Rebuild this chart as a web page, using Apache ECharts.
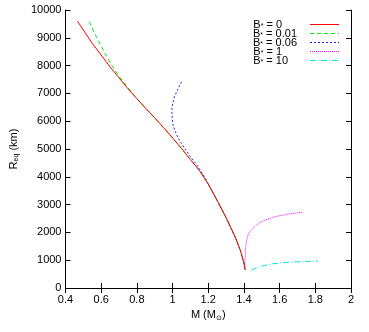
<!DOCTYPE html>
<html>
<head>
<meta charset="utf-8">
<script src="https://cdn.jsdelivr.net/npm/echarts@6/dist/echarts.min.js"></script>
<style>html,body{margin:0;padding:0;background:#fff}#c{width:369px;height:332px}</style>
</head>
<body>
<div id="c"></div>
<script>
// Data: [M (Msun), R_eq (km)]
var seriesNames = ['0', '0.01', '0.06', '1', '10'];
var b0 = [[0.467,9600],[0.5,9280],[0.55,8800],[0.6,8380],[0.65,7950],[0.7,7560],[0.75,7170],[0.8,6810],[0.85,6460],[0.9,6120],[0.95,5770],[1.0,5400],[1.05,5020],[1.1,4620],[1.15,4230],[1.2,3740],[1.25,3150],[1.3,2530],[1.35,1850],[1.38,1350],[1.4,900],[1.407,650]];
var b001 = [[0.533,9580],[0.56,9200],[0.6,8700],[0.65,8100],[0.7,7620],[0.75,7200],[0.8,6815],[0.85,6460],[0.9,6120],[0.95,5770],[1.0,5400],[1.05,5020],[1.1,4620],[1.15,4230],[1.2,3740],[1.25,3150],[1.3,2530],[1.35,1850],[1.38,1350],[1.4,900],[1.407,650]];
var b006 = [[1.05,7420],[1.03,7150],[1.01,6880],[1.0,6620],[0.996,6400],[0.998,6150],[1.0,5920],[1.012,5680],[1.028,5440],[1.05,5200],[1.074,4960],[1.1,4730],[1.13,4480],[1.16,4200],[1.185,3930],[1.2,3740],[1.25,3150],[1.3,2530],[1.35,1850],[1.38,1350],[1.4,900],[1.407,650]];
var b1 = [[1.405,700],[1.407,1100],[1.41,1500],[1.417,1750],[1.425,1950],[1.444,2100],[1.48,2320],[1.52,2450],[1.574,2565],[1.65,2660],[1.728,2725]];
var b10 = [[1.441,640],[1.47,720],[1.5,790],[1.55,860],[1.611,910],[1.67,935],[1.722,950],[1.815,970]];
var xTicks = {min: 0.4, max: 2, step: 0.2};
var yTicks = {min: 0, max: 10000, step: 1000};

var colors = ['#ff0000', '#00ee00', '#2020ff', '#ff00ff', '#00e8e8'];
var dashes = ['solid', [4, 3], [2, 2], [1, 1], [6, 2, 1, 2]];
var allData = [b0, b001, b006, b1, b10];

var font = 'Liberation Sans, Arial, sans-serif';
var chart = echarts.init(document.getElementById('c'), null, {renderer: 'canvas'});

// measure legend value text so that legend texts are left aligned
var measureCtx = document.createElement('canvas').getContext('2d');
measureCtx.font = '11px ' + font;
function textW(s) { return measureCtx.measureText(s).width; }
var valueBoxW = 42;

function axisCommon(extra) {
  var a = {
    type: 'value',
    axisLine: {show: true, lineStyle: {color: '#000', width: 1}},
    axisTick: {show: true, inside: true, length: 5, lineStyle: {color: '#000'}},
    splitLine: {show: false}
  };
  for (var k in extra) a[k] = extra[k];
  return a;
}

var series = allData.map(function (d, i) {
  return {
    name: seriesNames[i],
    type: 'line',
    data: d,
    xAxisIndex: 0,
    yAxisIndex: 0,
    showSymbol: false,
    symbol: 'none',
    lineStyle: {color: colors[i], width: 1, type: dashes[i]},
    itemStyle: {color: colors[i]},
    z: 10 - i
  };
});

var legendRich = {
  v: {fontSize: 11, fontFamily: font, color: '#000', lineHeight: 10, verticalAlign: 'middle'},
  s: {fontSize: 7, fontFamily: font, color: '#000', lineHeight: 10, verticalAlign: 'bottom'}
};
seriesNames.forEach(function (n, i) {
  var pad = Math.max(1, Math.round(valueBoxW - textW(' = ' + n)));
  legendRich['p' + i] = {fontSize: 11, lineHeight: 10, width: pad};
});

var legendData = seriesNames.map(function (n, i) {
  return {
    name: n,
    itemStyle: {opacity: 0},
    lineStyle: {color: colors[i], width: 1, type: dashes[i], opacity: 1}
  };
});

var option = {
  animation: false,
  backgroundColor: '#fff',
  textStyle: {fontFamily: font},
  grid: {left: 62, right: 18, top: 10, bottom: 44, containLabel: false},
  xAxis: [
    axisCommon({
      min: xTicks.min, max: xTicks.max, interval: xTicks.step, position: 'bottom',
      axisLabel: {color: '#000', fontSize: 11, fontFamily: font, margin: 6,
        formatter: function (v) { return String(parseFloat(v.toFixed(1))); }},
      name: 'M (M{sub|⊙})', nameLocation: 'middle', nameGap: 18,
      nameTextStyle: {color: '#000', fontSize: 11, fontFamily: font,
        rich: {sub: {fontSize: 7, fontFamily: font, padding: [6, 0, 0, 0]}}}
    }),
    axisCommon({
      min: xTicks.min, max: xTicks.max, interval: xTicks.step, position: 'top',
      axisLabel: {show: false}
    })
  ],
  yAxis: [
    axisCommon({
      min: yTicks.min, max: yTicks.max, interval: yTicks.step, position: 'left',
      axisLabel: {color: '#000', fontSize: 11, fontFamily: font, margin: 4,
        formatter: function (v) { return String(v); }},
      name: 'R{sub|eq} (km)', nameLocation: 'middle', nameGap: 42, nameRotate: 90,
      nameTextStyle: {color: '#000', fontSize: 11, fontFamily: font,
        rich: {sub: {fontSize: 7, fontFamily: font, padding: [6, 0, 0, 0]}}}
    }),
    axisCommon({
      min: yTicks.min, max: yTicks.max, interval: yTicks.step, position: 'right',
      axisLabel: {show: false}
    })
  ],
  legend: {
    orient: 'vertical',
    left: 253,
    top: 19,
    align: 'right',
    itemWidth: 29,
    itemHeight: 10,
    itemGap: -2,
    padding: 0,
    itemStyle: {opacity: 0},
    data: legendData,
    formatter: function (n) {
      return '{v|B}{s|*}{v| = ' + n + '}{p' + seriesNames.indexOf(n) + '| }';
    },
    textStyle: {color: '#000', fontFamily: font, fontSize: 11, rich: legendRich}
  },
  series: series
};
chart.setOption(option);
</script>
</body>
</html>
